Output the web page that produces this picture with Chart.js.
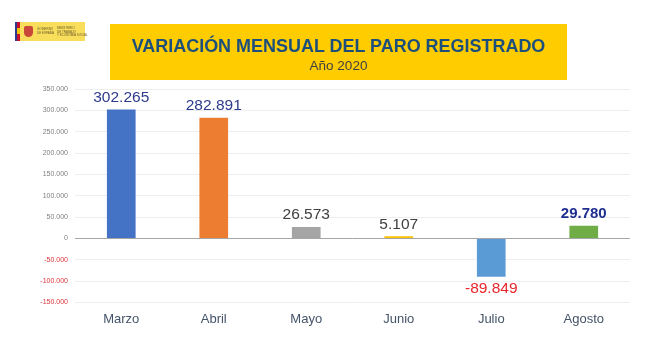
<!DOCTYPE html>
<html><head><meta charset="utf-8">
<script src="https://cdn.jsdelivr.net/npm/chart.js@4/dist/chart.umd.min.js"></script>
<style>
html,body{margin:0;padding:0;background:#fff;}
#wrap{position:relative;width:650px;height:355px;overflow:hidden;font-family:Arial,"Liberation Sans",sans-serif;}
#c{position:absolute;left:0;top:0;}
#titlebox{position:absolute;left:110px;top:24px;width:457px;height:56px;background:#FFCC00;}
#t1{position:absolute;left:0;width:100%;top:11px;text-align:center;font-weight:bold;font-size:19px;color:#1D4F7C;line-height:22px;white-space:nowrap;transform:scaleX(0.945);}
#t2{position:absolute;left:0;width:100%;top:34px;text-align:center;font-size:13.5px;color:#404040;line-height:15px;}
#logo{position:absolute;left:15px;top:22px;width:70px;height:19px;background:#F9DE5C;}
#logo .s1{position:absolute;left:0;top:0;width:2px;height:19px;background:#2B3A8C;}
#logo .s2{position:absolute;left:2px;top:0;width:3px;height:19px;background:#C8102E;}
#logo .s3{position:absolute;left:2px;top:6px;width:3px;height:6px;background:#F6C500;}
#logo .sh{position:absolute;left:9px;top:4px;width:9px;height:11px;background:#C9483A;border-radius:2px 2px 5px 5px;}
#logo .tx{position:absolute;font-size:3px;line-height:3.5px;color:#6B5A2A;white-space:nowrap;}
</style></head>
<body><div id="wrap">
<canvas id="c" width="650" height="355"></canvas>
<div id="logo"><div class="s1"></div><div class="s2"></div><div class="s3"></div><div class="sh"></div>
<div class="tx" style="left:22px;top:6px">GOBIERNO<br>DE ESPAÑA</div>
<div class="tx" style="left:42px;top:5px">MINISTERIO<br>DE TRABAJO<br>Y ECONOMÍA SOCIAL</div></div>
<div id="titlebox"><div id="t1">VARIACIÓN MENSUAL DEL PARO REGISTRADO</div><div id="t2">Año 2020</div></div>
</div>
<script>
const months = ["Marzo","Abril","Mayo","Junio","Julio","Agosto"];
const paroVariation = [302265, 282891, 26573, 5107, -89849, 29780];
const yTickValues = [350000,300000,250000,200000,150000,100000,50000,0,-50000,-100000,-150000];

const barColors = ["#4472C4","#ED7D31","#A5A5A5","#FFC000","#5B9BD5","#70AD47"];
const labelColors = ["#2E3A8C","#2E3A8C","#404040","#404040","#E8262B","#1F2F8F"];
const labelBold = [false,false,false,false,false,true];

function fmt(v){
  const s = Math.abs(v).toString().replace(/\B(?=(\d{3})+(?!\d))/g, ".");
  return (v < 0 ? "-" : "") + s;
}

const valueLabels = {
  id: "valueLabels",
  afterDatasetsDraw(chart){
    const ctx = chart.ctx;
    const meta = chart.getDatasetMeta(0);
    ctx.save();
    ctx.textAlign = "center";
    ctx.textBaseline = "middle";
    meta.data.forEach((bar, i) => {
      const v = paroVariation[i];
      ctx.font = (labelBold[i] ? "bold 15px " : "15.5px ") + "Arial, 'Liberation Sans', sans-serif";
      ctx.fillStyle = labelColors[i];
      const y = v >= 0 ? bar.y - 12 : bar.y + 12;
      ctx.fillText(fmt(v), bar.x, y);
    });
    ctx.restore();
  }
};

new Chart(document.getElementById("c"), {
  type: "bar",
  data: {
    labels: months,
    datasets: [{
      data: paroVariation,
      backgroundColor: barColors,
      borderWidth: 0,
      barPercentage: 0.62,
      categoryPercentage: 0.5
    }]
  },
  options: {
    responsive: false,
    animation: false,
    layout: { padding: { top: 89, right: 20, left: 0, bottom: 0 } },
    plugins: { legend: { display: false }, tooltip: { enabled: false } },
    scales: {
      x: {
        grid: { display: false, drawTicks: false },
        border: { display: false },
        ticks: {
          color: "#44546A",
          padding: 9,
          font: { size: 13, family: "Arial, 'Liberation Sans', sans-serif" }
        },
        afterFit(s){ s.height = 52.5; }
      },
      y: {
        min: -150000, max: 350000,
        afterBuildTicks(s){ s.ticks = yTickValues.map(v => ({ value: v })); },
        grid: {
          drawTicks: false,
          color: ctx => (ctx.tick && ctx.tick.value === 0) ? "#A6A6A6" : "#EEEEEE",
          lineWidth: 1
        },
        border: { display: false },
        ticks: {
          padding: 7,
          callback: v => fmt(v),
          color: ctx => (ctx.tick && ctx.tick.value < 0) ? "#D9343C" : "#808080",
          font: { size: 7, family: "Arial, 'Liberation Sans', sans-serif" }
        },
        afterFit(s){ s.width = 75; }
      }
    }
  },
  plugins: [valueLabels]
});
</script>
</body></html>
